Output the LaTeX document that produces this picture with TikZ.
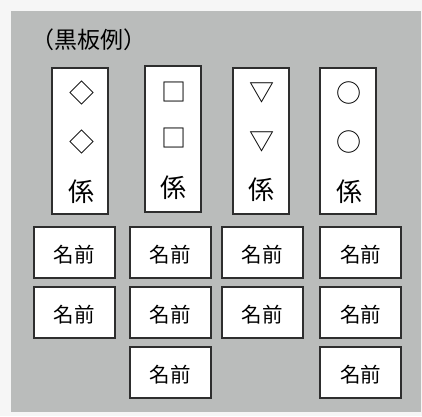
\documentclass[tikz,border=0pt]{standalone}
\usepackage{fontspec}
\newfontfamily\jp{Noto Sans CJK JP}
\definecolor{board}{HTML}{BABCBB}
\definecolor{outer}{HTML}{F6F6F6}
\definecolor{edge}{HTML}{2E2E2E}
\begin{document}
\begin{tikzpicture}[x=1pt,y=-1pt,
  tallbox/.style={draw=edge,line width=2pt,fill=white,minimum width=56pt,minimum height=146pt,inner sep=0pt,anchor=north west},
  namebox/.style={draw=edge,line width=2pt,fill=white,minimum width=81pt,minimum height=50.5pt,inner sep=0pt,anchor=north west},
  sym/.style={font=\jp\fontsize{25}{25}\selectfont,inner sep=0pt},
  role/.style={font=\jp\fontsize{26}{26}\selectfont,inner sep=0pt},
  nametext/.style={font=\jp\fontsize{20.5}{20.5}\selectfont,inner sep=0pt}]
\useasboundingbox (0,0) rectangle (422,416);
\fill[outer] (0,0) rectangle (422,416);
\fill[board] (11,11) rectangle (421,412);
\node[font=\jp\fontsize{23}{23}\selectfont,inner sep=0pt] (title) at (89,40) {（黒板例）};
% tall boxes
\node[tallbox] (t1) at (51,66.5) {};
\node[tallbox] (t2) at (144,65) {};
\node[tallbox] (t3) at (231.5,66.5) {};
\node[tallbox] (t4) at (319,66.5) {};
\node[sym] (s1a) at (81.5,93) {◇};
\node[sym] (s1b) at (81.5,142) {◇};
\node[role] (r1) at (81.5,192) {係};
\node[sym] (s2a) at (173.5,92) {□};
\node[sym] (s2b) at (173.5,138) {□};
\node[role] (r2) at (173.5,188) {係};
\node[sym] (s3a) at (261.5,93) {▽};
\node[sym] (s3b) at (261.5,142) {▽};
\node[role] (r3) at (261.5,190) {係};
\node[sym] (s4a) at (349,93) {○};
\node[sym] (s4b) at (349,142) {○};
\node[role] (r4) at (349,192) {係};
% name boxes
\foreach \c/\x in {1/32.5,2/128.5,3/220.5,4/319}{
  \node[namebox] (n1\c) at (\x,226) {};
  \node[nametext] at ([yshift=-2.5pt]n1\c.center) {名前};
  \node[namebox] (n2\c) at (\x,286) {};
  \node[nametext] at ([yshift=-2.5pt]n2\c.center) {名前};
}
\foreach \c/\x in {2/128.5,4/319}{
  \node[namebox] (n3\c) at (\x,346) {};
  \node[nametext] at ([yshift=-2.5pt]n3\c.center) {名前};
}
\end{tikzpicture}
\end{document}
